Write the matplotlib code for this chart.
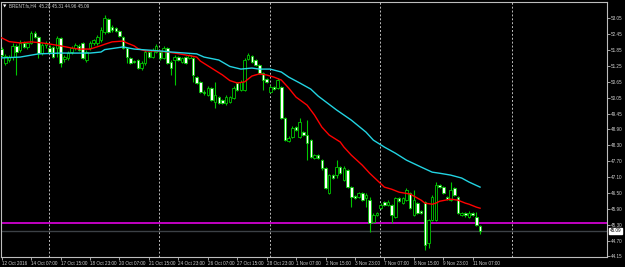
import numpy as np
import matplotlib.pyplot as plt
from matplotlib.transforms import blended_transform_factory

# Brent H4 candles (12 Oct 2016 - 11 Nov 2016)
title = "BRENT.fs,H4  45.28 45.31 44.96 45.09"

opens = [
    51.90, 51.38, 51.49, 51.60, 52.02, 51.87, 52.13, 51.98, 52.13, 52.50,
    52.35, 51.75, 52.05, 51.94, 51.98, 51.94, 52.32, 51.53, 51.57, 51.79,
    51.94, 52.02, 52.13, 51.49, 51.94, 52.13, 52.13, 52.24, 52.54, 53.03,
    52.73, 52.69, 52.58, 52.35, 51.94, 51.57, 51.45, 51.49, 51.19, 51.38,
    51.79, 51.60, 51.79, 51.79, 51.57, 51.94, 51.42, 51.49, 51.60, 51.42,
    51.60, 51.57, 51.57, 50.85, 50.67, 50.29, 50.18, 50.44, 49.92, 50.10,
    49.99, 49.88, 49.92, 50.07, 50.63, 50.37, 50.37, 51.53, 51.64, 51.49,
    51.30, 51.00, 50.78, 50.29, 50.48, 50.44, 50.48, 49.32, 48.45, 48.60,
    48.98, 48.60, 48.79, 48.68, 48.49, 47.82, 47.93, 47.74, 47.44, 46.50,
    47.18, 47.18, 47.48, 47.00, 47.37, 46.73, 46.39, 46.35, 46.50, 46.32,
    46.24, 45.42, 45.68, 45.94, 46.17, 46.05, 46.05, 45.60, 46.32, 46.13,
    46.24, 46.50, 45.68, 46.13, 45.83, 46.17, 44.63, 45.49, 45.49, 46.80,
    46.73, 46.35, 46.24, 46.69, 46.35, 45.68, 45.75, 45.60, 45.75, 45.60,
    45.28]
highs = [
    51.98, 51.72, 51.68, 52.13, 52.09, 52.24, 52.20, 52.17, 52.58, 52.58,
    52.39, 52.13, 52.20, 52.05, 52.02, 52.39, 52.35, 51.68, 51.83, 52.02,
    52.13, 52.09, 52.17, 51.87, 52.20, 52.28, 52.43, 52.73, 53.18, 53.07,
    52.80, 52.73, 52.61, 52.39, 51.98, 51.60, 51.49, 51.53, 51.45, 51.87,
    51.83, 51.94, 52.09, 51.83, 52.02, 51.98, 51.49, 51.68, 51.64, 51.60,
    51.64, 51.72, 51.60, 50.89, 50.70, 50.37, 50.52, 50.48, 50.67, 50.14,
    50.03, 50.18, 50.14, 50.52, 50.67, 50.74, 51.57, 51.75, 51.68, 51.53,
    51.34, 51.04, 50.82, 50.55, 50.52, 50.82, 50.52, 49.36, 48.64, 49.01,
    49.01, 49.32, 48.83, 49.24, 48.53, 47.97, 47.97, 47.78, 47.48, 47.22,
    47.22, 47.74, 47.52, 47.52, 47.40, 46.77, 46.43, 46.54, 46.54, 46.50,
    46.35, 45.75, 45.79, 46.13, 46.20, 46.24, 46.09, 46.35, 46.35, 46.35,
    46.69, 46.54, 46.62, 46.17, 45.87, 46.20, 45.53, 46.43, 46.92, 46.84,
    46.77, 46.39, 46.92, 46.73, 46.39, 45.79, 45.79, 45.83, 45.79, 45.79,
    45.31]
lows = [
    51.60, 51.30, 51.42, 51.49, 50.93, 51.79, 51.94, 51.90, 52.09, 52.32,
    51.57, 51.68, 51.94, 51.75, 51.57, 51.60, 51.23, 51.42, 51.49, 51.72,
    51.87, 51.83, 51.53, 51.42, 51.87, 52.05, 52.05, 52.17, 52.47, 52.50,
    52.54, 52.54, 52.35, 51.90, 51.38, 51.34, 51.38, 51.15, 51.12, 51.30,
    51.57, 51.57, 51.75, 51.49, 51.53, 51.34, 50.93, 50.55, 51.45, 51.38,
    51.34, 51.53, 50.67, 50.59, 50.25, 50.18, 50.14, 49.95, 49.69, 49.84,
    49.84, 49.80, 49.88, 50.03, 50.33, 50.33, 50.33, 51.49, 51.38, 51.27,
    50.97, 50.37, 50.63, 50.25, 50.37, 50.40, 49.28, 48.45, 48.42, 48.57,
    48.83, 48.57, 48.64, 47.74, 47.82, 47.78, 47.78, 47.37, 46.65, 46.47,
    47.03, 47.07, 47.22, 46.95, 46.69, 45.98, 46.28, 46.32, 46.20, 45.98,
    45.04, 45.38, 45.64, 45.90, 46.02, 46.02, 45.38, 45.57, 46.17, 46.09,
    46.20, 45.90, 45.64, 45.72, 45.72, 44.37, 44.44, 45.45, 45.45, 46.69,
    46.47, 46.24, 46.20, 46.39, 45.72, 45.64, 45.60, 45.57, 45.64, 45.27,
    44.96]
closes = [
    51.68, 51.64, 51.60, 52.02, 51.79, 52.13, 51.98, 52.13, 52.50, 52.35,
    51.75, 52.05, 52.13, 51.79, 51.60, 52.32, 51.38, 51.60, 51.75, 51.94,
    52.05, 51.87, 51.57, 51.79, 52.13, 52.24, 52.35, 52.61, 53.07, 52.54,
    52.61, 52.58, 52.39, 51.94, 51.60, 51.38, 51.42, 51.19, 51.38, 51.79,
    51.60, 51.87, 52.02, 51.57, 51.94, 51.38, 51.19, 51.60, 51.49, 51.57,
    51.38, 51.68, 50.93, 50.63, 50.29, 50.25, 50.44, 49.99, 50.18, 49.88,
    49.88, 50.10, 50.10, 50.44, 50.37, 50.67, 51.49, 51.68, 51.42, 51.30,
    51.00, 50.74, 50.67, 50.48, 50.40, 50.74, 49.32, 48.49, 48.57, 48.94,
    48.87, 49.17, 48.68, 48.38, 47.86, 47.93, 47.82, 47.44, 46.69, 47.18,
    47.07, 47.48, 47.25, 47.44, 46.73, 46.35, 46.32, 46.50, 46.24, 46.43,
    45.38, 45.68, 45.75, 46.05, 46.05, 46.17, 45.68, 46.32, 46.20, 46.32,
    46.62, 45.94, 46.24, 45.75, 45.75, 44.55, 45.49, 46.35, 46.80, 46.73,
    46.50, 46.28, 46.62, 46.43, 45.75, 45.75, 45.68, 45.75, 45.68, 45.30,
    45.09]

# moving averages (bar index, value) as drawn on the chart
red_ma_bar = [0, 2, 5, 8, 11, 13, 16, 19, 21, 24, 27, 28, 30, 33, 34, 36, 37, 39,
              42, 45, 47, 50, 53, 54, 57, 60, 62, 64, 66, 67, 68, 70, 72, 74, 76,
              78, 80, 83, 85, 87, 89, 92, 93, 95, 98, 100, 102, 104, 106, 108, 111,
              114, 115, 117, 118, 119, 122, 124, 126, 127, 129, 130]
red_ma_val = [52.32, 52.18, 52.13, 52.17, 52.13, 52.09, 52.02, 51.94, 51.90, 51.90,
              52.03, 52.08, 52.17, 52.20, 52.13, 52.02, 51.92, 51.83, 51.83, 51.79,
              51.75, 51.68, 51.60, 51.45, 51.19, 50.93, 50.72, 50.63, 50.67, 50.78,
              50.89, 50.97, 50.93, 50.85, 50.74, 50.44, 50.10, 49.80, 49.43, 48.98,
              48.68, 48.42, 48.23, 47.93, 47.55, 47.25, 46.99, 46.73, 46.65, 46.54,
              46.47, 46.24, 46.13, 46.09, 46.13, 46.20, 46.28, 46.24, 46.13, 46.09,
              45.98, 45.94]
cyan_ma_bar = [0, 5, 10, 16, 24, 27, 28, 31, 33, 36, 39, 43, 46, 50, 53, 55, 59, 62,
               65, 68, 70, 73, 76, 78, 81, 84, 86, 91, 95, 99, 101, 104, 107, 110,
               114, 117, 119, 122, 125, 127, 130]
cyan_ma_val = [51.57, 51.60, 51.72, 51.75, 51.75, 51.79, 51.88, 51.94, 51.98, 51.90,
               51.87, 51.83, 51.79, 51.75, 51.72, 51.60, 51.49, 51.25, 51.15, 51.19,
               51.15, 51.15, 51.04, 50.85, 50.63, 50.40, 50.14, 49.62, 49.24, 48.79,
               48.49, 48.23, 48.00, 47.74, 47.48, 47.29, 47.25, 47.18, 47.07, 46.92,
               46.73]

date_labels = ["12 Oct 2016", "14 Oct 07:00", "17 Oct 15:00", "18 Oct 23:00",
               "20 Oct 07:00", "21 Oct 15:00", "24 Oct 23:00", "26 Oct 07:00",
               "27 Oct 15:00", "28 Oct 23:00", "1 Nov 07:00", "2 Nov 15:00",
               "3 Nov 23:00", "7 Nov 07:00", "8 Nov 15:00", "9 Nov 23:00",
               "11 Nov 07:00"]
label_step = 8
week_starts = [13, 43, 73, 103, 139]
price_ticks = [53.05, 52.45, 51.85, 51.25, 50.65, 50.05, 49.45, 48.90, 48.30,
               47.70, 47.10, 46.50, 45.90, 45.30, 44.70, 44.15]
support_level = 45.40

BG = 'black'
GREEN = '#00c800'
FG = '#cfcfcf'
FONT = ['Liberation Sans', 'DejaVu Sans']
FS = 3.3

W, H = 625, 267
fig = plt.figure(figsize=(W / 100, H / 100), dpi=100, facecolor=BG)
ax = fig.add_axes([1 / W, 1 - 257 / H, 606 / W, 255 / H], facecolor=BG)

o, hi, lo, c = map(np.array, (opens, highs, lows, closes))
idx = np.arange(len(c))
up = c >= o
body_lo = np.minimum(o, c)
body_h = np.maximum(np.abs(c - o), 0.02)

ax.vlines(idx, lo, hi, color=GREEN, lw=0.8, zorder=3)
ax.bar(idx[up], body_h[up], 0.68, bottom=body_lo[up], color='black',
       edgecolor=GREEN, lw=0.6, zorder=4)
ax.bar(idx[~up], body_h[~up], 0.68, bottom=body_lo[~up], color='white',
       edgecolor=GREEN, lw=0.6, zorder=4)

ax.plot(red_ma_bar, red_ma_val, color='#ff0000', lw=1.0, zorder=5)
ax.plot(cyan_ma_bar, cyan_ma_val, color='#22d4e2', lw=1.0, zorder=5)

ax.axhline(support_level, color='#d000d0', lw=1.3, zorder=2)
ax.axhline(closes[-1], color='#3c4146', lw=1.0, zorder=2)
for b in week_starts:
    ax.axvline(b - 0.2, color='#bdbdbd', lw=0.7, ls=(0, (2, 2)), zorder=1)

ax.set_xlim(-0.19, 164.5)
ax.set_ylim(44.1125, 53.663)

ax.yaxis.tick_right()
ax.set_yticks(price_ticks)
ax.set_yticklabels([f"{p:.2f}" for p in price_ticks], family=FONT)
ax.set_xticks(idx[::label_step][:len(date_labels)])
ax.set_xticklabels(date_labels, ha='left', family=FONT)
ax.tick_params(axis='both', colors='#bdbdbd', labelcolor=FG, labelsize=FS,
               length=1.8, width=0.6, pad=1.0)

for s in ax.spines.values():
    s.set_color('#bdbdbd')
    s.set_linewidth(0.8)

# current price box on the price scale
tr = blended_transform_factory(ax.transAxes, ax.transData)
ax.text(1.004, closes[-1], f"{closes[-1]:.2f}", transform=tr, ha='left',
        va='center', fontsize=FS, family=FONT, color='black', zorder=10,
        bbox=dict(boxstyle='square,pad=0.15', fc='white', ec='white'),
        clip_on=False)

fig.text(2.5 / W, 1 - 6 / H, '\u25bc', color='white', fontsize=3.2,
         va='center', ha='left', family='DejaVu Sans')
fig.text(9 / W, 1 - 6 / H, title, color=FG, fontsize=FS, va='center',
         ha='left', family=FONT)

fig.savefig('out.png', dpi=100, facecolor=BG)
